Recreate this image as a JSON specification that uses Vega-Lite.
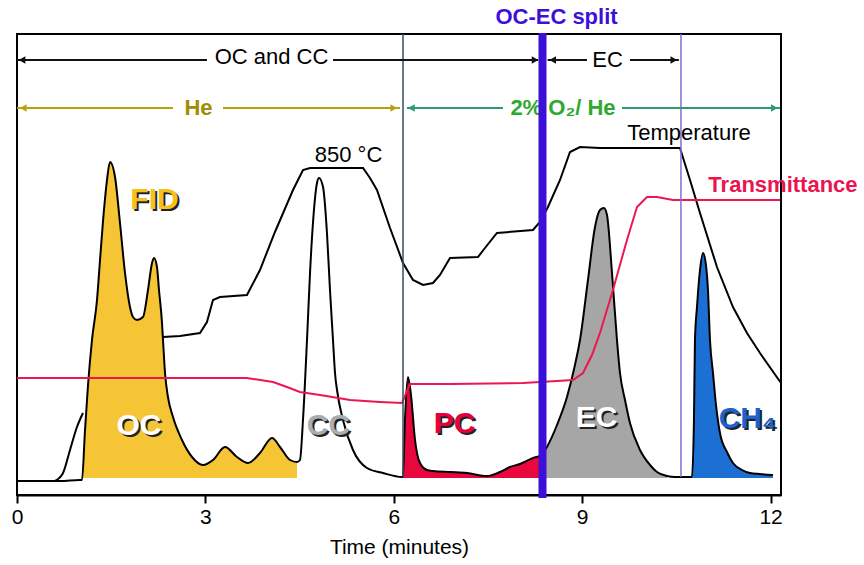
{
  "$schema": "https://vega.github.io/schema/vega-lite/v6.json",
  "width": 764,
  "height": 461,
  "autosize": {"type": "none"},
  "padding": {"left": 17, "top": 34, "right": 83, "bottom": 70},
  "background": "white",
  "config": {"view": {"stroke": "#000", "strokeWidth": 2}, "font": "Liberation Sans"},
  "datasets": {
    "fid": [
      {"t": 0, "s": 14, "frac": "none"}, {"t": 0.685, "s": 14, "frac": "none"}, {"t": 1.003, "s": 15, "frac": "none"},
      {"t": 1.035, "s": 15, "frac": "OC"}, {"t": 1.083, "s": 65, "frac": "OC"}, {"t": 1.131, "s": 110, "frac": "OC"},
      {"t": 1.194, "s": 155, "frac": "OC"}, {"t": 1.274, "s": 195, "frac": "OC"}, {"t": 1.322, "s": 235, "frac": "OC"},
      {"t": 1.385, "s": 285, "frac": "OC"}, {"t": 1.433, "s": 315, "frac": "OC"}, {"t": 1.481, "s": 333, "frac": "OC"},
      {"t": 1.561, "s": 318, "frac": "OC"}, {"t": 1.64, "s": 272, "frac": "OC"}, {"t": 1.72, "s": 222, "frac": "OC"},
      {"t": 1.799, "s": 188, "frac": "OC"}, {"t": 1.847, "s": 178, "frac": "OC"}, {"t": 1.911, "s": 175, "frac": "OC"},
      {"t": 2.006, "s": 178, "frac": "OC"}, {"t": 2.086, "s": 205, "frac": "OC"}, {"t": 2.15, "s": 232, "frac": "OC"},
      {"t": 2.182, "s": 237, "frac": "OC"}, {"t": 2.229, "s": 228, "frac": "OC"}, {"t": 2.261, "s": 205, "frac": "OC"},
      {"t": 2.309, "s": 172, "frac": "OC"}, {"t": 2.325, "s": 155, "frac": "OC"}, {"t": 2.357, "s": 122, "frac": "OC"},
      {"t": 2.404, "s": 98, "frac": "OC"}, {"t": 2.484, "s": 78, "frac": "OC"}, {"t": 2.627, "s": 55, "frac": "OC"},
      {"t": 2.787, "s": 38, "frac": "OC"}, {"t": 2.962, "s": 30, "frac": "OC"}, {"t": 3.121, "s": 35, "frac": "OC"},
      {"t": 3.312, "s": 48, "frac": "OC"}, {"t": 3.503, "s": 38, "frac": "OC"}, {"t": 3.678, "s": 32, "frac": "OC"},
      {"t": 3.869, "s": 42, "frac": "OC"}, {"t": 4.061, "s": 57, "frac": "OC"}, {"t": 4.188, "s": 48, "frac": "OC"},
      {"t": 4.347, "s": 35, "frac": "OC"}, {"t": 4.459, "s": 33, "frac": "OC"},
      {"t": 4.506, "s": 35, "frac": "none"}, {"t": 4.554, "s": 75, "frac": "none"}, {"t": 4.618, "s": 155, "frac": "none"},
      {"t": 4.666, "s": 222, "frac": "none"}, {"t": 4.713, "s": 272, "frac": "none"}, {"t": 4.777, "s": 312, "frac": "none"},
      {"t": 4.809, "s": 317, "frac": "none"}, {"t": 4.873, "s": 308, "frac": "none"}, {"t": 4.936, "s": 262, "frac": "none"},
      {"t": 4.984, "s": 205, "frac": "none"}, {"t": 5.032, "s": 155, "frac": "none"}, {"t": 5.064, "s": 122, "frac": "none"},
      {"t": 5.096, "s": 105, "frac": "none"}, {"t": 5.191, "s": 75, "frac": "none"}, {"t": 5.35, "s": 45, "frac": "none"},
      {"t": 5.573, "s": 27, "frac": "none"}, {"t": 5.828, "s": 22, "frac": "none"}, {"t": 6.131, "s": 18, "frac": "none"},
      {"t": 6.147, "s": 18, "frac": "PC"}, {"t": 6.178, "s": 75, "frac": "PC"}, {"t": 6.226, "s": 118, "frac": "PC"},
      {"t": 6.274, "s": 100, "frac": "PC"}, {"t": 6.338, "s": 55, "frac": "PC"}, {"t": 6.417, "s": 32, "frac": "PC"},
      {"t": 6.529, "s": 25, "frac": "PC"}, {"t": 6.624, "s": 24, "frac": "PC"}, {"t": 6.895, "s": 23, "frac": "PC"},
      {"t": 7.166, "s": 22, "frac": "PC"}, {"t": 7.484, "s": 19, "frac": "PC"}, {"t": 7.691, "s": 23, "frac": "PC"},
      {"t": 7.85, "s": 28, "frac": "PC"}, {"t": 8.01, "s": 31, "frac": "PC"}, {"t": 8.217, "s": 37, "frac": "PC"},
      {"t": 8.36, "s": 40, "frac": "PC"},
      {"t": 8.37, "s": 41, "frac": "EC"}, {"t": 8.439, "s": 48, "frac": "EC"}, {"t": 8.599, "s": 70, "frac": "EC"},
      {"t": 8.758, "s": 98, "frac": "EC"}, {"t": 8.885, "s": 130, "frac": "EC"}, {"t": 8.965, "s": 155, "frac": "EC"},
      {"t": 9.092, "s": 215, "frac": "EC"}, {"t": 9.204, "s": 268, "frac": "EC"}, {"t": 9.283, "s": 285, "frac": "EC"},
      {"t": 9.347, "s": 287, "frac": "EC"}, {"t": 9.395, "s": 280, "frac": "EC"}, {"t": 9.475, "s": 222, "frac": "EC"},
      {"t": 9.554, "s": 155, "frac": "EC"}, {"t": 9.602, "s": 122, "frac": "EC"}, {"t": 9.682, "s": 95, "frac": "EC"},
      {"t": 9.761, "s": 72, "frac": "EC"}, {"t": 9.921, "s": 45, "frac": "EC"}, {"t": 10.08, "s": 30, "frac": "EC"},
      {"t": 10.191, "s": 23, "frac": "EC"}, {"t": 10.35, "s": 19, "frac": "EC"},
      {"t": 10.478, "s": 18, "frac": "none"}, {"t": 10.717, "s": 18, "frac": "none"},
      {"t": 10.748, "s": 18, "frac": "CH4"}, {"t": 10.78, "s": 75, "frac": "CH4"}, {"t": 10.796, "s": 155, "frac": "CH4"},
      {"t": 10.828, "s": 188, "frac": "CH4"}, {"t": 10.876, "s": 225, "frac": "CH4"}, {"t": 10.924, "s": 242, "frac": "CH4"},
      {"t": 10.971, "s": 230, "frac": "CH4"}, {"t": 11.003, "s": 205, "frac": "CH4"}, {"t": 11.035, "s": 155, "frac": "CH4"},
      {"t": 11.083, "s": 122, "frac": "CH4"}, {"t": 11.131, "s": 90, "frac": "CH4"}, {"t": 11.194, "s": 62, "frac": "CH4"},
      {"t": 11.306, "s": 43, "frac": "CH4"}, {"t": 11.401, "s": 32, "frac": "CH4"}, {"t": 11.545, "s": 25, "frac": "CH4"},
      {"t": 11.672, "s": 22, "frac": "CH4"}, {"t": 11.831, "s": 21, "frac": "CH4"}, {"t": 12.038, "s": 20, "frac": "CH4"}
    ],
    "fid_lead": [
      {"t": 0.605, "s": 14}, {"t": 0.733, "s": 22}, {"t": 0.844, "s": 45}, {"t": 0.955, "s": 68}, {"t": 1.051, "s": 82}
    ],
    "temperature": [
      {"t": 2.325, "s": 158}, {"t": 2.596, "s": 159}, {"t": 2.914, "s": 162}, {"t": 3.025, "s": 173}, {"t": 3.121, "s": 195},
      {"t": 3.232, "s": 198}, {"t": 3.662, "s": 200}, {"t": 3.869, "s": 225}, {"t": 4.108, "s": 263}, {"t": 4.395, "s": 305},
      {"t": 4.554, "s": 325}, {"t": 4.666, "s": 327}, {"t": 5.51, "s": 327}, {"t": 5.621, "s": 317}, {"t": 5.732, "s": 305},
      {"t": 5.94, "s": 267}, {"t": 6.147, "s": 232}, {"t": 6.306, "s": 215}, {"t": 6.465, "s": 210}, {"t": 6.624, "s": 212},
      {"t": 6.736, "s": 220}, {"t": 6.895, "s": 237}, {"t": 7.341, "s": 238}, {"t": 7.452, "s": 247}, {"t": 7.643, "s": 262},
      {"t": 8.217, "s": 265}, {"t": 8.328, "s": 273}, {"t": 8.455, "s": 288}, {"t": 8.647, "s": 315}, {"t": 8.806, "s": 343},
      {"t": 8.965, "s": 348}, {"t": 9.283, "s": 347}, {"t": 10.557, "s": 347}, {"t": 10.717, "s": 315}, {"t": 10.876, "s": 282},
      {"t": 11.146, "s": 228}, {"t": 11.401, "s": 188}, {"t": 11.624, "s": 162}, {"t": 11.831, "s": 142}, {"t": 12.166, "s": 112}
    ],
    "transmittance": [
      {"t": 0, "s": 117}, {"t": 3.662, "s": 117}, {"t": 4.076, "s": 113}, {"t": 4.299, "s": 108}, {"t": 4.506, "s": 103},
      {"t": 4.825, "s": 100}, {"t": 5.303, "s": 95}, {"t": 5.78, "s": 93}, {"t": 6.131, "s": 92}, {"t": 6.258, "s": 111},
      {"t": 6.895, "s": 111}, {"t": 8.057, "s": 112}, {"t": 8.328, "s": 113}, {"t": 8.854, "s": 115}, {"t": 9.013, "s": 122},
      {"t": 9.156, "s": 140}, {"t": 9.283, "s": 162}, {"t": 9.49, "s": 205}, {"t": 9.713, "s": 255}, {"t": 9.873, "s": 288},
      {"t": 10.032, "s": 298}, {"t": 10.191, "s": 298}, {"t": 10.446, "s": 295}, {"t": 12.15, "s": 295}
    ],
    "vlines": [
      {"t": 6.147, "s": 461, "s2": 18, "kind": "run"},
      {"t": 10.573, "s": 461, "s2": 18, "kind": "ec"},
      {"t": 8.368, "s": 462, "s2": -3, "kind": "split"}
    ],
    "segments": [
      {"t": 0, "t2": 3.025, "s": 435, "kind": "black"},
      {"t": 5.032, "t2": 8.3, "s": 435, "kind": "black"},
      {"t": 8.45, "t2": 9.076, "s": 435, "kind": "black"},
      {"t": 9.761, "t2": 10.54, "s": 435, "kind": "black"},
      {"t": 0, "t2": 2.484, "s": 387, "kind": "gold"},
      {"t": 3.28, "t2": 6.099, "s": 387, "kind": "gold"},
      {"t": 6.21, "t2": 7.739, "s": 387, "kind": "green"},
      {"t": 9.634, "t2": 12.15, "s": 387, "kind": "green"}
    ],
    "heads": [
      {"t": 0.08, "s": 435, "dir": "left", "kind": "black"},
      {"t": 8.25, "s": 435, "dir": "right", "kind": "black"},
      {"t": 8.53, "s": 435, "dir": "left", "kind": "black"},
      {"t": 10.46, "s": 435, "dir": "right", "kind": "black"},
      {"t": 0.1, "s": 387, "dir": "left", "kind": "gold"},
      {"t": 6.0, "s": 387, "dir": "right", "kind": "gold"},
      {"t": 6.28, "s": 387, "dir": "left", "kind": "green"},
      {"t": 12.06, "s": 387, "dir": "right", "kind": "green"}
    ],
    "labels": [
      {"t": 4.053, "s": 438, "text": "OC and CC", "group": "plain", "kind": "black"},
      {"t": 9.403, "s": 435, "text": "EC", "group": "plain", "kind": "black"},
      {"t": 5.279, "s": 340, "text": "850 °C", "group": "plain", "kind": "black"},
      {"t": 10.7, "s": 362, "text": "Temperature", "group": "plain", "kind": "black"},
      {"t": 8.591, "s": 478, "text": "OC-EC split", "group": "bold", "kind": "split"},
      {"t": 2.89, "s": 387, "text": "He", "group": "bold", "kind": "he"},
      {"t": 8.694, "s": 387, "text": "2% O₂/ He", "group": "bold", "kind": "o2"},
      {"t": 12.197, "s": 310, "text": "Transmittance", "group": "bold", "kind": "trans"},
      {"t": 2.189, "s": 295, "text": "FID", "group": "big", "kind": "FID"},
      {"t": 1.943, "s": 69, "text": "OC", "group": "big", "kind": "OC"},
      {"t": 4.96, "s": 69, "text": "CC", "group": "big", "kind": "CC"},
      {"t": 6.967, "s": 71, "text": "PC", "group": "big", "kind": "PC"},
      {"t": 9.228, "s": 77, "text": "EC", "group": "big", "kind": "EC"},
      {"t": 11.632, "s": 76, "text": "CH₄", "group": "big", "kind": "CH4"}
    ]
  },
  "encoding": {
    "x": {
      "field": "t", "type": "quantitative",
      "scale": {"domain": [0, 12.166], "nice": false, "zero": false},
      "axis": {
        "values": [0, 3, 6, 9, 12], "title": "Time (minutes)", "grid": false,
        "domainColor": "#000", "domainWidth": 2, "tickColor": "#000", "tickWidth": 2, "tickSize": 8,
        "labelFont": "Liberation Sans", "labelFontSize": 21, "labelColor": "#000", "labelPadding": 3,
        "labelFlush": false, "labelOverlap": false,
        "titleFont": "Liberation Sans", "titleFontSize": 21, "titleFontWeight": "normal", "titleColor": "#000", "titlePadding": 9
      }
    },
    "y": {"field": "s", "type": "quantitative", "scale": {"domain": [0, 461], "nice": false, "zero": false}, "axis": null}
  },
  "layer": [
    {
      "data": {"name": "fid"},
      "transform": [{"filter": "datum.frac != 'none'"}],
      "mark": {"type": "area", "interpolate": "monotone", "opacity": 1},
      "encoding": {
        "y2": {"datum": 17},
        "color": {"field": "frac", "type": "nominal", "legend": null,
          "scale": {"domain": ["OC", "PC", "EC", "CH4"], "range": ["#f6c536", "#e8083e", "#a6a6a6", "#1c70d4"]}}
      }
    },
    {
      "data": {"name": "fid"},
      "mark": {"type": "line", "interpolate": "monotone", "color": "#000", "strokeWidth": 2},
      "encoding": {}
    },
    {
      "data": {"name": "fid_lead"},
      "mark": {"type": "line", "interpolate": "monotone", "color": "#000", "strokeWidth": 2},
      "encoding": {}
    },
    {
      "data": {"name": "temperature"},
      "mark": {"type": "line", "color": "#000", "strokeWidth": 2},
      "encoding": {}
    },
    {
      "data": {"name": "transmittance"},
      "mark": {"type": "line", "color": "#ec1650", "strokeWidth": 2},
      "encoding": {}
    },
    {
      "data": {"name": "vlines"},
      "transform": [{"filter": "datum.kind != 'split'"}],
      "mark": {"type": "rule", "strokeWidth": 1.5},
      "encoding": {
        "y2": {"field": "s2"},
        "color": {"field": "kind", "type": "nominal", "legend": null,
          "scale": {"domain": ["run", "ec"], "range": ["#3a4a62", "#7c70d2"]}}
      }
    },
    {
      "data": {"name": "segments"},
      "mark": {"type": "rule", "strokeWidth": 2},
      "encoding": {
        "x2": {"field": "t2"},
        "color": {"field": "kind", "type": "nominal", "legend": null,
          "scale": {"domain": ["black", "gold", "green"], "range": ["#111111", "#b8a20a", "#2c9c70"]}}
      }
    },
    {
      "data": {"name": "heads"},
      "mark": {"type": "point", "filled": true, "size": 60, "opacity": 1},
      "encoding": {
        "shape": {"field": "dir", "type": "nominal", "legend": null,
          "scale": {"domain": ["left", "right"], "range": ["triangle-left", "triangle-right"]}},
        "color": {"field": "kind", "type": "nominal", "legend": null,
          "scale": {"domain": ["black", "gold", "green"], "range": ["#111111", "#b8a20a", "#2c9c70"]}}
      }
    },
    {
      "data": {"name": "labels"},
      "transform": [{"filter": "datum.group == 'plain'"}],
      "mark": {"type": "text", "font": "Liberation Sans", "fontSize": 22, "color": "#000", "align": "center", "baseline": "middle"},
      "encoding": {"text": {"field": "text"}}
    },
    {
      "data": {"name": "labels"},
      "transform": [{"filter": "datum.group == 'bold'"}],
      "mark": {"type": "text", "font": "Liberation Sans", "fontSize": 22, "fontWeight": "bold", "align": "center", "baseline": "middle"},
      "encoding": {
        "text": {"field": "text"},
        "color": {"field": "kind", "type": "nominal", "legend": null,
          "scale": {"domain": ["split", "he", "o2", "trans"], "range": ["#3d10d8", "#a38c00", "#2fa82f", "#ea1450"]}}
      }
    },
    {
      "data": {"name": "vlines"},
      "transform": [{"filter": "datum.kind == 'split'"}],
      "mark": {"type": "rule", "strokeWidth": 8, "color": "#3d10d8"},
      "encoding": {"y2": {"field": "s2"}}
    },
    {
      "data": {"name": "labels"},
      "transform": [{"filter": "datum.group == 'big'"}],
      "mark": {"type": "text", "font": "Liberation Sans", "fontSize": 30, "fontWeight": "bold", "align": "center", "baseline": "middle", "dx": 2, "dy": 2, "color": "#222222"},
      "encoding": {"text": {"field": "text"}}
    },
    {
      "data": {"name": "labels"},
      "transform": [{"filter": "datum.group == 'big'"}],
      "mark": {"type": "text", "font": "Liberation Sans", "fontSize": 30, "fontWeight": "bold", "align": "center", "baseline": "middle"},
      "encoding": {
        "text": {"field": "text"},
        "color": {"field": "kind", "type": "nominal", "legend": null,
          "scale": {"domain": ["FID", "OC", "CC", "PC", "EC", "CH4"], "range": ["#f5c21b", "#ffffff", "#a9adb0", "#e8003c", "#ffffff", "#1d62cc"]}}
      }
    }
  ],
  "resolve": {"scale": {"color": "independent", "shape": "independent"}}
}
